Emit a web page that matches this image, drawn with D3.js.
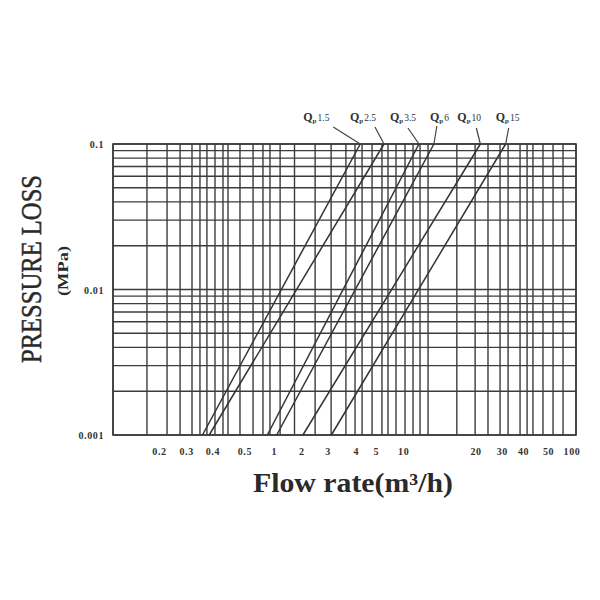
<!DOCTYPE html>
<html><head><meta charset="utf-8">
<script src="https://cdn.jsdelivr.net/npm/d3@7/dist/d3.min.js"></script>
<style>body{margin:0;background:#fff}</style>
</head><body><svg id="c" width="600" height="600"></svg>
<script>
// ---- data ----
const seriesNames = ["1.5", "2.5", "3.5", "6", "10", "15"];          // Qp, m³/h
const lossEnds = [0.001, 0.1];                                       // MPa
const flowAtLowLoss  = [0.38, 0.42, 1.0, 1.15, 1.7, 2.6];            // m³/h at 0.001 MPa
const flowAtHighLoss = [4.0, 5.7, 9.6, 12, 24, 35];                  // m³/h at 0.1 MPa
const xTickValues = [0.2, 0.3, 0.4, 0.5, 1, 2, 3, 4, 5, 10, 20, 30, 40, 50, 100];
const xTickLabels = ["0.2", "0.3", "0.4", "0.5", "1", "2", "3", "4", "5", "10", "20", "30", "40", "50", "100"];
const yTickValues = [0.1, 0.01, 0.001];
const yTickLabels = ["0.1", "0.01", "0.001"];
const xGridValues = [0.1, 0.166, 0.224, 0.272, 0.325, 0.366, 0.406, 0.458, 0.516, 0.556, 0.665, 0.808, 0.937,
  1.04, 1.21, 1.5, 2.04, 2.59, 3.23, 3.7, 4.11, 4.77, 5.53, 6.05, 6.82, 7.8, 8.79, 9.76, 11.0,
  16.9, 22.2, 26.9, 32.2, 36.3, 43.4, 48.2, 52.6, 61.1, 71.0, 82.4, 100];
const yGridValues = [0.001, 0.002, 0.003, 0.004, 0.005, 0.006, 0.007, 0.008, 0.009,
  0.01, 0.02, 0.03, 0.04, 0.05, 0.06, 0.07, 0.08, 0.09, 0.1];

// ---- layout ----
const plot = {left: 113, right: 576, top: 144, bottom: 435};
// label placement relative to each curve's upper end: [leader dx, leader dy, text dx]
const labelLayout = [[-27, -17, -57], [-9, -17, -34], [-11, -16, -29], [3, -18, -4], [-4, -16, -23], [3, -16, -10]];
// horizontal nudges of the x tick texts, as they are set in the original print
const xTickNudge = [0, 0, 7, 24, 7, -12, -13, -4, 1, -18, 8, 7, 9, 19, -4];
const ink = "#3c3c3c";
const serif = "'Liberation Serif','DejaVu Serif',serif";

const svg = d3.select("#c");
const x = d3.scaleLog().domain([0.1, 100]).range([plot.left, plot.right]);
const y = d3.scaleLog().domain([0.001, 0.1]).range([plot.bottom, plot.top]);

// grid
const g = svg.append("g");
g.selectAll("line.v").data(xGridValues).join("line").attr("class", "v")
  .attr("x1", d => x(d)).attr("x2", d => x(d))
  .attr("y1", plot.top).attr("y2", plot.bottom)
  .attr("stroke", ink).attr("stroke-width", 1.4);
g.selectAll("line.h").data(yGridValues).join("line").attr("class", "h")
  .attr("y1", d => y(d)).attr("y2", d => y(d))
  .attr("x1", plot.left).attr("x2", plot.right)
  .attr("stroke", ink).attr("stroke-width", 1.4);
g.append("rect").attr("x", plot.left).attr("y", plot.top)
  .attr("width", plot.right - plot.left).attr("height", plot.bottom - plot.top)
  .attr("fill", "none").attr("stroke", ink).attr("stroke-width", 1.6);

// curves
const series = seriesNames.map((n, i) => ({
  name: n, layout: labelLayout[i],
  pts: [[flowAtLowLoss[i], lossEnds[0]], [flowAtHighLoss[i], lossEnds[1]]]
}));
const line = d3.line().x(d => x(d[0])).y(d => y(d[1]));
svg.append("g").selectAll("path").data(series).join("path")
  .attr("d", d => line(d.pts)).attr("fill", "none")
  .attr("stroke", "#333").attr("stroke-width", 1.5);

// leaders + labels
const lab = svg.append("g");
series.forEach(s => {
  const tx = x(s.pts[1][0]), ty = y(s.pts[1][1]);
  const [ldx, ldy, tdx] = s.layout;
  lab.append("line").attr("x1", tx).attr("y1", ty).attr("x2", tx + ldx).attr("y2", ty + ldy)
    .attr("stroke", "#444").attr("stroke-width", 1.2);
  const t = lab.append("text").attr("x", tx + tdx).attr("y", 121)
    .attr("font-family", serif).attr("font-weight", "bold").attr("fill", "#333");
  t.append("tspan").attr("font-size", 12).text("Q");
  t.append("tspan").attr("font-size", 7).attr("dy", 2).text("p");
  t.append("tspan").attr("font-size", 9.5).attr("font-weight", "normal").attr("dy", -2).attr("dx", 1).text(s.name);
});

// tick labels
svg.append("g").selectAll("text").data(xTickValues).join("text")
  .attr("x", (d, i) => x(d) + xTickNudge[i]).attr("y", 455).attr("text-anchor", "middle")
  .attr("font-family", serif).attr("font-weight", "bold").attr("font-size", 10)
  .attr("letter-spacing", 0.6).attr("fill", "#333")
  .text((d, i) => xTickLabels[i]);
svg.append("g").selectAll("text").data(yTickValues).join("text")
  .attr("x", 104).attr("y", d => y(d) + 4).attr("text-anchor", "end")
  .attr("font-family", serif).attr("font-weight", "bold").attr("font-size", 10)
  .attr("letter-spacing", 0.6).attr("fill", "#333")
  .text((d, i) => yTickLabels[i]);

// axis titles
svg.append("text").attr("transform", "translate(41,269) rotate(-90)")
  .attr("text-anchor", "middle").attr("font-family", serif).attr("font-size", 30)
  .attr("fill", "#2a2a2a").attr("stroke", "#2a2a2a").attr("stroke-width", 0.5)
  .attr("textLength", 188).attr("lengthAdjust", "spacingAndGlyphs")
  .text("PRESSURE LOSS");
svg.append("text").attr("transform", "translate(68,271) rotate(-90)")
  .attr("text-anchor", "middle").attr("font-family", serif).attr("font-size", 15).attr("font-weight", "bold")
  .attr("fill", "#2a2a2a").attr("textLength", 50).attr("lengthAdjust", "spacingAndGlyphs")
  .text("(MPa)");
svg.append("text").attr("x", 253).attr("y", 492)
  .attr("font-family", serif).attr("font-size", 27).attr("font-weight", "bold")
  .attr("fill", "#2a2a2a").attr("textLength", 200).attr("lengthAdjust", "spacingAndGlyphs")
  .text("Flow rate(m³/h)");
</script></body></html>
